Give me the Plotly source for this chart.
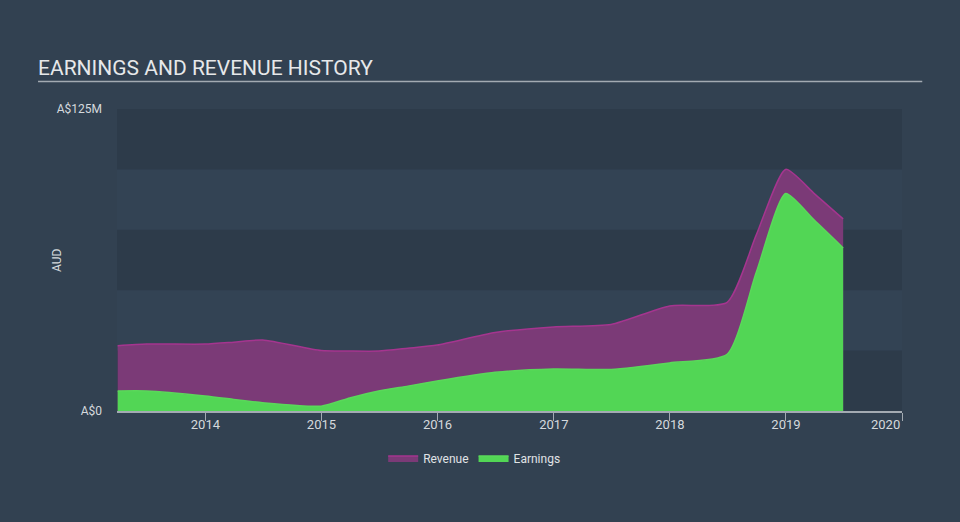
import plotly.graph_objects as go

dates = ["2013-03-31", "2013-06-30", "2013-12-31", "2014-03-31", "2014-06-30",
         "2014-12-31", "2015-03-31", "2015-06-30", "2015-09-30", "2015-12-31",
         "2016-06-30", "2016-12-31", "2017-06-30", "2017-12-31", "2018-06-30",
         "2018-09-30", "2018-12-31", "2019-03-31", "2019-06-30"]
revenue = [27.0, 27.7, 27.7, 28.5, 29.4,
           25.0, 24.8, 24.8, 26.0, 27.3,
           32.5, 34.8, 35.8, 43.5, 45.0,
           73.0, 100.0, 90.0, 79.5]
earnings = [8.3, 8.3, 6.2, 4.8, 3.4,
            2.0, 5.4, 8.3, 10.3, 12.4,
            16.0, 17.4, 17.2, 19.9, 23.5,
            57.5, 90.0, 79.0, 67.5]

xticks = ["2014-01-01", "2015-01-01", "2016-01-01", "2017-01-01",
          "2018-01-01", "2019-01-01", "2020-01-01"]
xticklabels = ["2014", "2015", "2016", "2017", "2018", "2019", "2020"]
yticks = [0, 125]
yticklabels = ["A$0", "A$125M"]

fig = go.Figure()
fig.add_trace(go.Scatter(
    x=dates, y=revenue, name="Revenue", mode="lines",
    line=dict(color="#a5358f", width=1.5, shape="spline", smoothing=0.6),
    fill="tozeroy", fillcolor="#7b3a77"))
fig.add_trace(go.Scatter(
    x=dates, y=earnings, name="Earnings", mode="lines",
    line=dict(color="#5ad85a", width=1.5, shape="spline", smoothing=0.6),
    fill="tozeroy", fillcolor="#52d655"))

for lo, hi in [(0, 25), (50, 75), (100, 125)]:
    fig.add_shape(type="rect", xref="paper", yref="y", x0=0, x1=1, y0=lo, y1=hi,
                  fillcolor="#2d3b4a", line_width=0, layer="below")

fig.add_annotation(text="EARNINGS AND REVENUE HISTORY", xref="paper", yref="paper",
                   x=-0.1032, y=1.0894, xanchor="left", yanchor="bottom", showarrow=False,
                   font=dict(family="Roboto", size=21, color="#e6e8ea"))
fig.add_shape(type="line", xref="paper", yref="paper", x0=-0.1006, x1=1.0258,
              y0=1.091, y1=1.091, line=dict(color="#a3aab2", width=1.5))

fig.add_annotation(text="AUD", xref="paper", yref="paper", x=-0.0764, y=0.5,
                   textangle=-90, showarrow=False, xanchor="center", yanchor="middle",
                   font=dict(family="Roboto", size=12, color="#d5d9dd"))

# last x tick label sits inside the axis end, right-aligned
fig.add_annotation(text=xticklabels[-1], xref="x", yref="paper", x=xticks[-1], y=-0.014,
                   xanchor="right", yanchor="top", showarrow=False,
                   font=dict(family="Roboto", size=13, color="#d5d9dd"))

fig.update_layout(
    width=960, height=522,
    margin=dict(l=117, r=58, t=109, b=111),
    paper_bgcolor="#324151",
    plot_bgcolor="#334354",
    font=dict(family="Roboto", color="#d5d9dd", size=12),
    showlegend=True,
    legend=dict(orientation="h", x=0.455, y=-0.108, xanchor="center", yanchor="top",
                font=dict(size=12, color="#e0e3e6"), bgcolor="rgba(0,0,0,0)"),
    xaxis=dict(type="date", range=["2013-03-29", "2020-01-01"],
               tickvals=xticks, ticktext=xticklabels[:-1] + [""], showgrid=False,
               showline=True, linecolor="#a3aab2", linewidth=1.5,
               ticks="outside", ticklen=8, tickcolor="#a3aab2",
               ticklabelstandoff=-7,
               tickfont=dict(size=13, color="#d5d9dd"), zeroline=False),
    yaxis=dict(range=[0, 125], tickvals=yticks, ticktext=yticklabels,
               showgrid=False, zeroline=False, ticks="", ticklabelstandoff=14,
               tickfont=dict(size=12, color="#d5d9dd")),
)

fig.write_html("out.html")
